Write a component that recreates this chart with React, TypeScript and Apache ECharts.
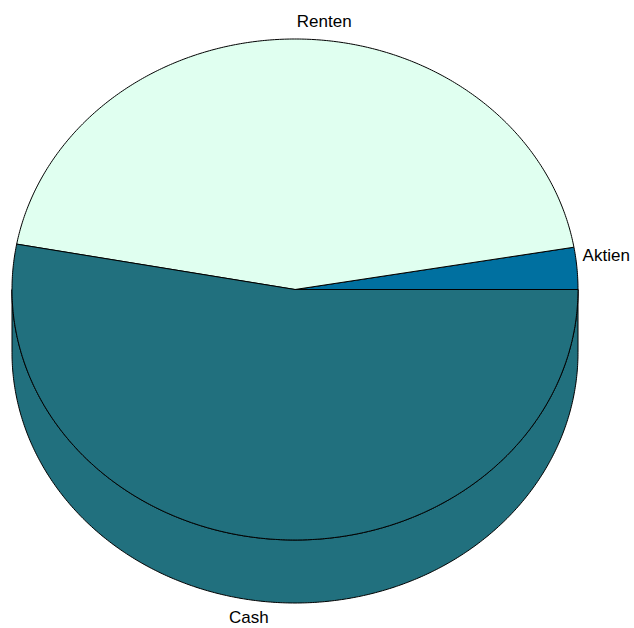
import React, { useEffect, useRef } from "react";
import * as echarts from "echarts";

const categories = ["Aktien", "Renten", "Cash"];
const values = [2.7, 44.4, 52.9];
const colors = ["#0070A0", "#E0FFF0", "#21707E"];

export default function App() {
  const ref = useRef<HTMLDivElement>(null);
  useEffect(() => {
    document.body.style.margin = "0";
    const chart = echarts.init(ref.current!, null, { renderer: "svg" });
    const total = values.reduce((a, b) => a + b, 0);
    const starts: number[] = [];
    let acc = 0;
    values.forEach((v) => {
      starts.push((acc / total) * 360);
      acc += v;
    });
    const CX = 295, CY = 289.5, RX = 283, RY = 250.5, DEPTH = 63;
    const pt = (deg: number, dy = 0, k = 1) => {
      const r = (deg * Math.PI) / 180;
      return [CX + RX * k * Math.cos(r), CY - RY * k * Math.sin(r) + dy];
    };
    const arc = (a0: number, a1: number, dy = 0) => {
      const n = Math.max(2, Math.ceil(Math.abs(a1 - a0) / 0.5) + 1);
      const pts: number[][] = [];
      for (let i = 0; i < n; i++) pts.push(pt(a0 + ((a1 - a0) * i) / (n - 1), dy));
      return pts;
    };
    const font = '17px "Liberation Sans", Arial, sans-serif';

    chart.setOption({
      animation: false,
      series: [
        {
          type: "custom",
          coordinateSystem: "none",
          data: values.map((v, i) => ({ value: v, name: categories[i] })),
          renderItem: (params: any, api: any) => {
            const i = params.dataIndex;
            const v = Number(api.value(0)) || values[i];
            const a0 = starts[i];
            const a1 = a0 + (v / total) * 360;
            const children: any[] = [];
            const s = Math.max(a0, 180);
            const e = Math.min(a1, 360);
            if (e > s) {
              const top = arc(s, e, 0);
              const bot = arc(e, s, DEPTH);
              children.push({
                type: "polygon",
                shape: { points: top.concat(bot) },
                style: { fill: colors[i], stroke: "#000", lineWidth: 1 },
                z2: 1,
              });
            }
            children.push({
              type: "polygon",
              shape: { points: [[CX, CY]].concat(arc(a0, a1, 0)) },
              style: { fill: colors[i], stroke: "#000", lineWidth: 1 },
              z2: 2,
            });
            const mid = (a0 + a1) / 2;
            const r = (mid * Math.PI) / 180;
            const upper = Math.sin(r) > 0;
            const lp = pt(mid, upper ? 0 : DEPTH, 1.02);
            children.push({
              type: "text",
              x: lp[0],
              y: upper ? lp[1] - 4 : lp[1] + 2,
              style: {
                text: categories[i],
                font,
                fill: "#000",
                align: Math.cos(r) >= 0 ? "left" : "right",
                verticalAlign: upper ? "bottom" : "top",
              },
              z2: 5,
            });
            return { type: "group", children };
          },
        },
      ],
    });
    return () => chart.dispose();
  }, []);
  return (
    <div
      ref={ref}
      style={{ position: "fixed", left: 0, top: 0, width: 634, height: 628, background: "#fff" }}
    />
  );
}
